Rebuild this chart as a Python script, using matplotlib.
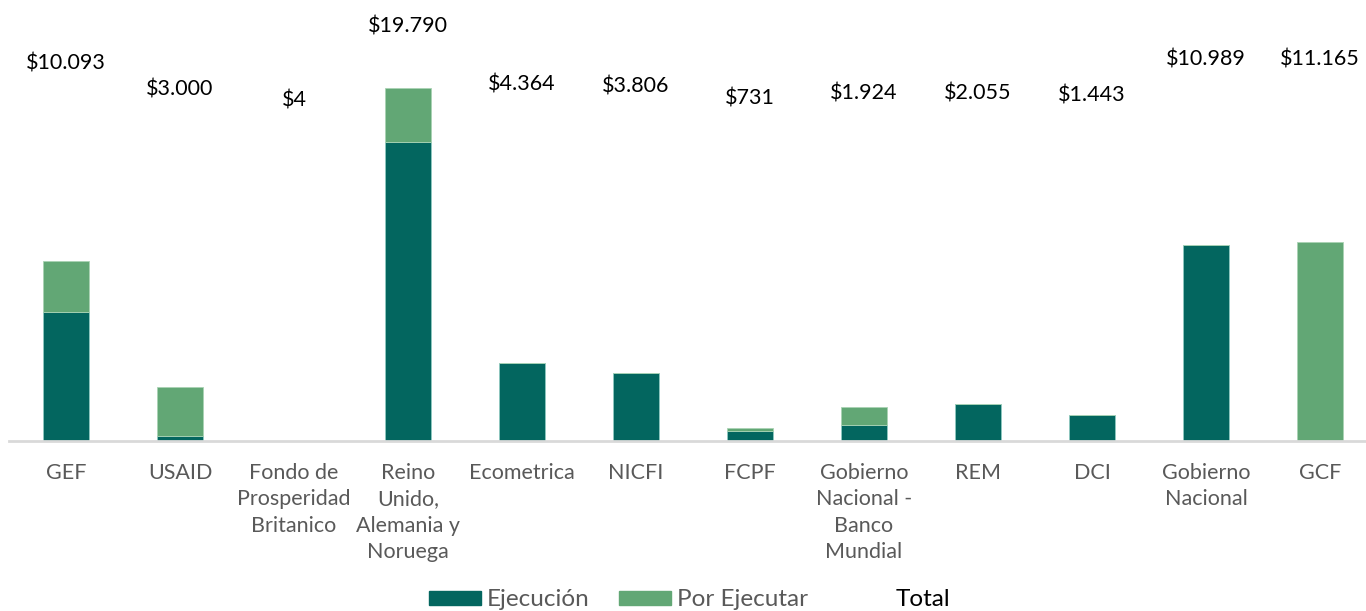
import matplotlib
matplotlib.use('Agg')
import matplotlib.pyplot as plt
import matplotlib.patches as mpatches
import numpy as np

plt.rcParams['font.family'] = ['Lato', 'DejaVu Sans']

# Datos (millones)
categorias = ['GEF', 'USAID', 'Fondo de\nProsperidad\nBritanico',
              'Reino\nUnido,\nAlemania y\nNoruega', 'Ecometrica', 'NICFI', 'FCPF',
              'Gobierno\nNacional -\nBanco\nMundial', 'REM', 'DCI',
              'Gobierno\nNacional', 'GCF']
ejecucion = [7.25, 0.30, 0.004, 16.76, 4.364, 3.806, 0.55, 0.88, 2.055, 1.443, 10.989, 0.0]
por_ejecutar = [2.843, 2.70, 0.0, 3.03, 0.0, 0.0, 0.181, 1.044, 0.0, 0.0, 0.0, 11.165]
total = [10.093, 3.000, 0.004, 19.790, 4.364, 3.806, 0.731, 1.924, 2.055, 1.443, 10.989, 11.165]
etiquetas_total = ['$10.093', '$3.000', '$4', '$19.790', '$4.364', '$3.806', '$731',
                   '$1.924', '$2.055', '$1.443', '$10.989', '$11.165']

C_EJEC = '#03665F'
C_POR = '#62A775'

fig = plt.figure(figsize=(13.66, 6.11), dpi=100)
ax = fig.add_axes([9 / 1366, (611 - 441) / 611, 1368 / 1366, 431 / 611])

x = np.arange(len(categorias))
ax.bar(x, ejecucion, width=0.4, color=C_EJEC, edgecolor='#8FC9C0', linewidth=0.6)
ax.bar(x, por_ejecutar, width=0.4, bottom=ejecucion, color=C_POR,
       edgecolor='#A9D3B4', linewidth=0.6)

ax.set_xlim(-0.5, len(categorias) - 0.5)
ax.set_ylim(0, 24.16)
ax.set_xticks(x)
ax.set_xticklabels(categorias, fontsize=15.5, color='#595959', linespacing=1.39, va='top')
ax.tick_params(axis='x', length=0, pad=16)
ax.set_yticks([])
for s in ['top', 'right', 'left']:
    ax.spines[s].set_visible(False)
ax.spines['bottom'].set_color('#D9D9D9')
ax.spines['bottom'].set_linewidth(2)

# Serie Total en eje secundario (solo etiquetas)
ax2 = ax.twinx()
ax2.set_ylim(-90.9, 24.3)
ax2.plot(x, total, linestyle='none', marker='')
for xi, v, lab in zip(x, total, etiquetas_total):
    ax2.text(xi, v, lab, ha='center', va='center', fontsize=15.5, color='black')
ax2.axis('off')

handles = [mpatches.Patch(color=C_EJEC), mpatches.Patch(color=C_POR),
           mpatches.Patch(color='none')]
leg = fig.legend(handles, ['Ejecución', 'Por Ejecutar', 'Total'], ncol=3,
                 loc='center left', bbox_to_anchor=(429 / 1366, 1 - 600 / 611),
                 frameon=False, fontsize=17.5, handlelength=2.14, handleheight=0.52,
                 columnspacing=1.2, handletextpad=0.25, borderpad=0, borderaxespad=0)
for t, c in zip(leg.get_texts(), ['#595959', '#595959', 'black']):
    t.set_color(c)

fig.savefig('out.png', dpi=100)
